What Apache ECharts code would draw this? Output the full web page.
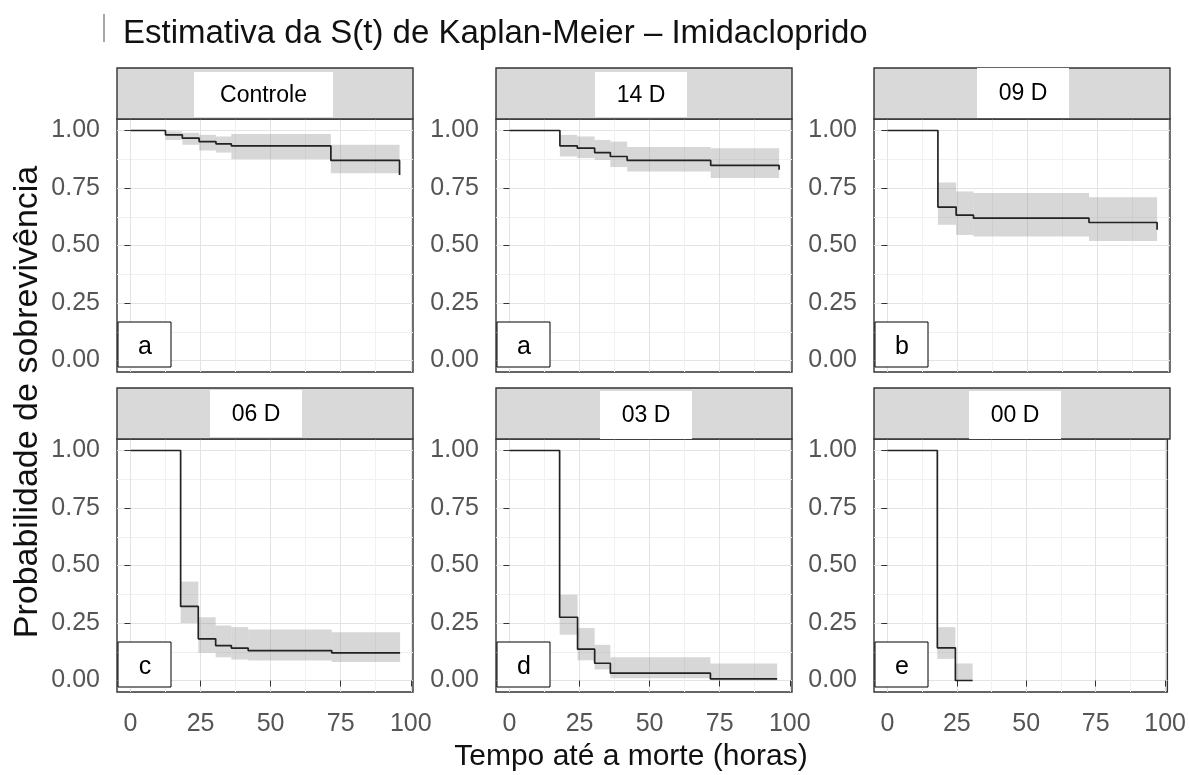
<!DOCTYPE html>
<html>
<head>
<meta charset="utf-8">
<script src="https://cdn.jsdelivr.net/npm/echarts@6/dist/echarts.min.js"></script>
<style>
  html, body { margin: 0; padding: 0; background: #fff; }
  #chart { width: 1189px; height: 775px; }
</style>
</head>
<body>
<div id="chart"></div>
<script>
// panel names and letters
const panelNames = ['Controle', '14 D', '09 D', '06 D', '03 D', '00 D'];
const panelLetters = ['a', 'a', 'b', 'c', 'd', 'e'];

const xTicks = [0, 25, 50, 75, 100];
const xMinorTicks = [12.5, 37.5, 62.5, 87.5];
const yTicks = [0, 0.25, 0.5, 0.75, 1];
const yMinorTicks = [0.125, 0.375, 0.625, 0.875];

// Kaplan-Meier estimates (time in hours)
const controleTime  = [0, 12.5, 18.5, 24.5, 30.5, 36, 71.5, 96];
const controleSurv  = [1, 0.981, 0.967, 0.952, 0.942, 0.933, 0.870, 0.807];
const controleLower = [0.959, 0.938, 0.913, 0.904, 0.875, 0.814];
const controleUpper = [0.996, 0.990, 0.981, 0.974, 0.985, 0.938];

const d14Time  = [0, 18, 24.2, 30.4, 36, 42, 71.8, 96.2];
const d14Surv  = [1, 0.933, 0.923, 0.904, 0.887, 0.870, 0.848, 0.829];
const d14Lower = [0.887, 0.880, 0.872, 0.841, 0.822, 0.793];
const d14Upper = [0.981, 0.974, 0.959, 0.952, 0.928, 0.923];

const d09Time  = [0, 18, 24.5, 30.7, 71.9, 96.2];
const d09Surv  = [1, 0.667, 0.632, 0.619, 0.600, 0.568];
const d09Lower = [0.590, 0.546, 0.539, 0.520];
const d09Upper = [0.774, 0.735, 0.728, 0.710];

const d06Time  = [0, 17.9, 24.2, 30.4, 36, 42, 71.8, 96.2];
const d06Surv  = [1, 0.322, 0.181, 0.152, 0.141, 0.130, 0.120, 0.120];
const d06Lower = [0.250, 0.120, 0.101, 0.091, 0.087, 0.080];
const d06Upper = [0.430, 0.275, 0.239, 0.232, 0.222, 0.210];

const d03Time  = [0, 17.9, 24.3, 30.4, 36, 71.7, 95.5];
const d03Surv  = [1, 0.275, 0.136, 0.075, 0.032, 0.007, 0.007];
const d03Lower = [0.199, 0.088, 0.048, 0.010, 0.001];
const d03Upper = [0.373, 0.228, 0.155, 0.101, 0.074];

const d00Time  = [0, 18, 24.5, 30.7];
const d00Surv  = [1, 0.142, 0.0, 0.0];
const d00Lower = [0.094, 0.0];
const d00Upper = [0.232, 0.074];

const panels = [
  [controleTime, controleSurv, controleLower, controleUpper],
  [d14Time, d14Surv, d14Lower, d14Upper],
  [d09Time, d09Surv, d09Lower, d09Upper],
  [d06Time, d06Surv, d06Lower, d06Upper],
  [d03Time, d03Surv, d03Lower, d03Upper],
  [d00Time, d00Surv, d00Lower, d00Upper]
];

const lefts = [117, 496, 874];
const tops = [119, 439];
const panelW = 296, panelH = 253;
const font = "'Liberation Sans', Arial, sans-serif";
const tickColor = '#555';

let chart = echarts.init(document.getElementById('chart'));

let grids = [], xAxes = [], yAxes = [], series = [], graphics = [];

function renderBand(params, api) {
  let p0 = api.coord([api.value(0), api.value(3)]);
  let p1 = api.coord([api.value(1), api.value(2)]);
  return {
    type: 'rect',
    shape: { x: p0[0], y: p0[1], width: p1[0] - p0[0], height: p1[1] - p0[1] },
    style: { fill: 'rgba(150,150,150,0.38)' }
  };
}

panels.forEach((p, i) => {
  let col = i % 3, row = Math.floor(i / 3);
  let bottomRow = row === 1;
  grids.push({
    left: lefts[col], top: tops[row], width: panelW, height: panelH,
    show: true, borderColor: '#333', borderWidth: 1.4, backgroundColor: '#fff'
  });
  // major axes
  xAxes.push({
    type: 'value', gridIndex: i, min: -4.8, max: 100.8,
    axisLine: { show: false },
    axisTick: { show: bottomRow, length: 6, customValues: xTicks, lineStyle: { color: '#333' } },
    axisLabel: { show: bottomRow, customValues: xTicks, margin: 20, fontSize: 25, color: tickColor, fontFamily: font },
    splitLine: { show: true, lineStyle: { color: '#e3e3e3', width: 1 } }
  });
  // minor axes, only for grid lines
  xAxes.push({
    type: 'value', gridIndex: i, min: -4.8, max: 100.8,
    axisLine: { show: false },
    axisTick: { show: false, customValues: xMinorTicks },
    axisLabel: { show: false, customValues: xMinorTicks },
    splitLine: { show: true, lineStyle: { color: '#f1f1f1', width: 1 } }
  });
  yAxes.push({
    type: 'value', gridIndex: i, min: -0.05, max: 1.05,
    axisLine: { show: false },
    axisTick: { show: true, length: 6, customValues: yTicks, lineStyle: { color: '#333' } },
    axisLabel: {
      show: true, customValues: yTicks, margin: 17, fontSize: 25, color: tickColor, fontFamily: font,
      formatter: v => v.toFixed(2)
    },
    splitLine: { show: true, lineStyle: { color: '#e3e3e3', width: 1 } }
  });
  yAxes.push({
    type: 'value', gridIndex: i, min: -0.05, max: 1.05,
    axisLine: { show: false },
    axisTick: { show: false, customValues: yMinorTicks },
    axisLabel: { show: false, customValues: yMinorTicks },
    splitLine: { show: true, lineStyle: { color: '#f1f1f1', width: 1 } }
  });

  let [times, surv, lower, upper] = p;
  let bands = [];
  for (let k = 0; k < lower.length; k++) {
    bands.push([times[k + 1], times[k + 2], lower[k], upper[k]]);
  }
  series.push({
    type: 'custom', xAxisIndex: 2 * i, yAxisIndex: 2 * i, z: 2, silent: true,
    renderItem: renderBand, encode: { x: [0, 1], y: [2, 3] }, data: bands
  });
  series.push({
    type: 'line', xAxisIndex: 2 * i, yAxisIndex: 2 * i, z: 3, silent: true,
    step: 'end', symbol: 'none',
    lineStyle: { color: '#222', width: 1.7 },
    data: times.map((t, k) => [t, surv[k]])
  });

  // facet strip
  let sx = lefts[col], sy = tops[row] - 51;
  graphics.push({
    type: 'rect', shape: { x: sx, y: sy, width: panelW, height: 51 },
    style: { fill: '#d9d9d9', stroke: '#333', lineWidth: 1.4 }, z: 10
  });
});

// white label boxes pasted over the strips
const stripBoxes = [
  [194, 72, 139, 45], [595, 72, 92, 45], [977, 68, 92, 50],
  [210, 390, 92, 47], [600, 391, 92, 48], [969, 391, 92, 48]
];
stripBoxes.forEach((b, i) => {
  graphics.push({ type: 'rect', shape: { x: b[0], y: b[1], width: b[2], height: b[3] }, style: { fill: '#fff' }, z: 11 });
  graphics.push({
    type: 'text', z: 12,
    style: { text: panelNames[i], x: b[0] + b[2] / 2, y: b[1] + b[3] / 2 + 1, font: '23px ' + font, fill: '#000', align: 'center', verticalAlign: 'middle' }
  });
});

// letter boxes
panels.forEach((p, i) => {
  let col = i % 3, row = Math.floor(i / 3);
  let bx = lefts[col] + 1, by = tops[row] + panelH - 50;
  graphics.push({ type: 'rect', shape: { x: bx, y: by, width: 53, height: 45 }, style: { fill: '#fff', stroke: '#000', lineWidth: 1 }, z: 11 });
  graphics.push({
    type: 'text', z: 12,
    style: { text: panelLetters[i], x: bx + 27, y: by + 25, font: '25px ' + font, fill: '#000', align: 'center', verticalAlign: 'middle' }
  });
});

// title, axis titles
graphics.push({ type: 'rect', shape: { x: 103, y: 14, width: 2, height: 28 }, style: { fill: '#a8a8a8' }, z: 11 });
graphics.push({
  type: 'text', z: 12,
  style: { text: 'Estimativa da S(t) de Kaplan-Meier – Imidacloprido', x: 123, y: 34, font: '33px ' + font, fill: '#111', align: 'left', verticalAlign: 'middle' }
});
graphics.push({
  type: 'text', z: 12,
  style: { text: 'Tempo até a morte (horas)', x: 631, y: 757, font: '30px ' + font, fill: '#111', align: 'center', verticalAlign: 'middle' }
});
graphics.push({
  type: 'text', z: 12, x: 28, y: 402, rotation: Math.PI / 2,
  style: { text: 'Probabilidade de sobrevivência', x: 0, y: 0, font: '34px ' + font, fill: '#111', align: 'center', verticalAlign: 'middle' }
});

chart.setOption({
  animation: false,
  grid: grids,
  xAxis: xAxes,
  yAxis: yAxes,
  series: series,
  graphic: graphics
});
</script>
</body>
</html>
